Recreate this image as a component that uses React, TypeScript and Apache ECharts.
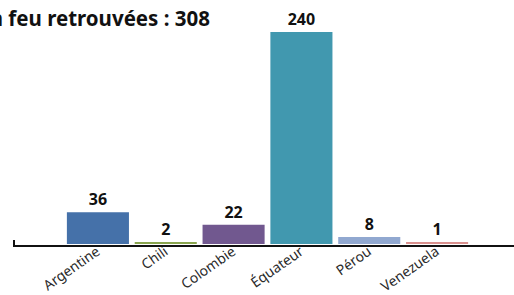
import React, { useEffect, useRef } from "react";
import * as echarts from "echarts";

const categories = ["Argentine", "Chili", "Colombie", "Équateur", "Pérou", "Venezuela"];
const values = [36, 2, 22, 240, 8, 1];
const colors = ["#4571A9", "#89A54E", "#71588F", "#4198AF", "#91A8D0", "#D9908E"];
const titleText = "Nombre d'armes à feu retrouvées : 308";

export default function App() {
  const ref = useRef<HTMLDivElement>(null);
  useEffect(() => {
    if (!ref.current) return;
    document.body.style.margin = "0";
    const chart = echarts.init(ref.current, undefined, { renderer: "svg" });
    chart.setOption({
      animation: false,
      grid: { left: 64, right: 43, top: 32, bottom: 49 },
      graphic: [
        {
          type: "text",
          right: 304,
          top: 7,
          style: {
            text: titleText,
            font: 'bold 20.5px "Noto Sans"',
            fill: "#111",
          },
        },
        {
          type: "line",
          shape: { x1: 13, y1: 246, x2: 514, y2: 246 },
          style: { stroke: "#111", lineWidth: 2 },
          z: 10,
        },
        {
          type: "line",
          shape: { x1: 14, y1: 240, x2: 14, y2: 246 },
          style: { stroke: "#111", lineWidth: 2 },
          z: 10,
        },
      ],
      xAxis: {
        type: "category",
        data: categories,
        axisLine: { show: false },
        axisTick: { show: false },
        axisLabel: {
          rotate: 35,
          color: "#2a2a2a",
          fontSize: 14,
          fontFamily: "Noto Sans",
          margin: 5,
          interval: 0,
        },
      },
      yAxis: {
        type: "value",
        min: 0,
        max: 240,
        show: false,
        splitLine: { show: false },
      },
      series: [
        {
          type: "bar",
          barCategoryGap: "8.5%",
          barMinHeight: 2,
          data: values.map((v, i) => ({ value: v, itemStyle: { color: colors[i] } })),
          label: {
            show: true,
            position: "top",
            distance: 5,
            color: "#111",
            fontWeight: "bold",
            fontSize: 16,
            fontFamily: "Noto Sans",
          },
        },
      ],
    });
    return () => chart.dispose();
  }, []);
  return <div ref={ref} style={{ width: 514, height: 295 }} />;
}
